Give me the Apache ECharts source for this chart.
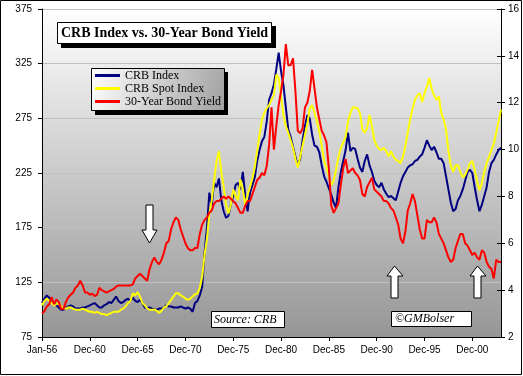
<!DOCTYPE html>
<html>
<head>
<meta charset="utf-8">
<script src="https://cdn.jsdelivr.net/npm/echarts@6/dist/echarts.min.js"></script>
<style>
  html, body { margin: 0; padding: 0; background: #fff; }
  #chart { width: 523px; height: 376px; }
</style>
</head>
<body>
<div id="chart"></div>
<script>
// quarterly points, Jan-56 .. Jan-04
let categories = [];
let monthNames = ['Jan', 'Apr', 'Jul', 'Oct'];
for (let y = 1956; y <= 2004; y++) {
  for (let q = 0; q < 4; q++) {
    if (y === 2004 && q > 0) break;
    categories.push(monthNames[q] + '-' + String(y).slice(2));
  }
}

let xTickLabels = ['Jan-56', 'Dec-60', 'Dec-65', 'Dec-70', 'Dec-75', 'Dec-80', 'Dec-85', 'Dec-90', 'Dec-95', 'Dec-00'];

let crbIndex = [
  106, 110, 113, 111,  109, 106, 104, 102,  100, 100, 102, 103,  104, 103, 101, 101,
  101, 102, 102, 103,  104, 105, 106, 104,  102, 102, 104, 105,  107, 106, 109, 112,
  108, 106, 107, 109,  110, 108, 111, 108,  107, 109, 106, 102,  101, 102, 101, 100,
  100, 101, 101, 102,  104, 103, 103, 102,  102, 102, 103, 102,  101, 102, 101, 98,
  106, 108, 113, 121,  152, 175, 207, 195,  216, 212, 220, 200,  190, 184, 186, 196,
  204, 214, 216, 210,  226, 205, 190, 207,  214, 221, 236, 246,  254, 258, 272, 292,
  298, 306, 320, 335,  318, 305, 285, 265,  258, 249, 240, 232,  238, 255, 268, 278,
  275, 260, 250, 249,  244, 232, 222, 217,  211, 205, 198, 193,  212, 226, 236, 246,
  262, 245, 248, 247,  238, 230, 226, 236,  242, 232, 226, 218,  214, 212, 216, 210,
  206, 203, 204, 202,  200, 208, 216, 222,  226, 230, 232, 233,  236, 237, 240, 242,
  248, 255, 250, 246,  249, 244, 238, 238,  234, 222, 210, 198,  190, 192, 200, 204,
  210, 218, 226, 228,  225, 212, 200, 190,  196, 204, 212, 226,  234, 237, 242, 246,
  248
];

let crbSpot = [
  104, 108, 110, 108,  106, 104, 105, 106,  103, 101, 101, 102,  102, 101, 100, 100,
  100, 101, 100, 99,   98, 98, 97, 98,      97, 96, 96, 95,      96, 97, 98, 98,
  98, 100, 101, 103,   106, 108, 115, 113,  116, 112, 106, 104,  101, 100, 100, 100,
  99, 97, 99, 102,     103, 106, 109, 112,  115, 115, 113, 112,  110, 109, 110, 112,
  114, 115, 120, 130,  150, 165, 188, 200,  218, 236, 245, 226,  212, 196, 188, 196,
  210, 204, 200, 219,  210, 196, 205, 212,  220, 230, 245, 260,  274, 280, 284, 287,
  292, 296, 315, 312,  295, 278, 268, 262,  255, 248, 238, 230,  240, 250, 260, 270,
  284, 287, 280, 272,  263, 250, 236, 230,  222, 214, 218, 228,  240, 248, 253, 258,
  272, 280, 285, 285,  284, 280, 265, 262,  266, 278, 268, 255,  250, 247, 246, 248,
  245, 240, 245, 240,  237, 236, 234, 240,  250, 262, 274, 284,  292, 296, 298, 290,
  298, 304, 312, 302,  296, 292, 295, 280,  274, 265, 245, 232,  226, 232, 232, 226,
  221, 223, 228, 234,  236, 228, 218, 209,  216, 226, 234, 240,  246, 252, 262, 272,
  283
];

let bondYield = [
  3.0, 3.1, 3.3, 3.4,   3.7, 3.4, 3.6, 3.5,   3.2, 3.2, 3.5, 3.7,   3.8, 3.9, 4.1, 4.2,
  4.4, 4.2, 3.9, 3.9,   3.8, 3.85, 3.75, 3.8, 4.1, 4.0, 3.95, 3.9, 3.95, 4.0, 4.05, 4.15,
  4.2, 4.2, 4.2, 4.2,   4.2, 4.2, 4.25, 4.5,  4.6, 4.7, 4.6, 4.5,   4.4, 4.9, 5.2, 5.4,
  5.2, 5.1, 5.3, 5.6,   6.0, 6.1, 6.6, 6.9,   7.1, 7.0, 6.6, 6.3,   6.0, 5.8, 5.7, 5.7,
  5.8, 5.8, 6.4, 6.8,   7.0, 7.1, 7.3, 7.4,   7.7, 7.8, 7.8, 7.9,   8.0, 7.9, 8.0, 7.9,
  7.8, 7.7, 7.5, 7.3,   7.3, 7.6, 7.8, 7.8,   8.1, 8.4, 8.7, 8.8,   9.0, 8.9, 9.3, 10.2,
  11.8, 10.0, 11.0, 11.9, 12.5, 13.2, 14.5, 13.6, 13.6, 13.9, 12.5, 10.8, 10.7, 10.9, 11.8, 12.0,
  12.5, 13.4, 12.6, 11.8, 11.3, 10.8, 10.6, 10.3, 9.2, 7.6, 7.3, 7.5,  7.7, 8.5, 9.2, 9.6,
  9.0, 9.1, 9.2, 9.0,   8.9, 8.7, 8.1, 8.0,   8.4, 8.6, 8.8, 8.3,   8.2, 8.1, 8.0, 7.8,
  7.8, 7.7, 7.5, 7.4,   7.1, 6.8, 6.2, 6.0,   6.5, 7.4, 7.7, 8.1,   7.8, 7.2, 6.6, 6.2,
  6.2, 7.0, 6.9, 6.9,   7.1, 6.9, 6.4, 6.2,   6.0, 5.7, 5.4, 5.2,   5.3, 5.8, 6.1, 6.4,
  6.4, 6.0, 5.9, 5.7,   5.5, 5.6, 5.4, 5.3,   5.7, 5.6, 5.2, 5.0,   4.9, 4.5, 5.3, 5.2,
  5.2
];

let axisFont = { color: '#000', fontFamily: 'Liberation Sans', fontSize: 10 };

let chart = echarts.init(document.getElementById('chart'));
let option = {
  animation: false,
  backgroundColor: '#fff',
  grid: {
    left: 42,
    right: 22,
    top: 9,
    bottom: 39,
    show: true,
    borderWidth: 0,
    backgroundColor: {
      type: 'linear', x: 0, y: 0, x2: 0, y2: 1,
      colorStops: [
        { offset: 0, color: '#ffffff' },
        { offset: 1, color: '#969696' }
      ]
    }
  },
  legend: {
    orient: 'vertical',
    left: 95,
    top: 68,
    padding: [1, 0, 0, 0],
    itemWidth: 25,
    itemHeight: 3,
    itemGap: 0,
    icon: 'rect',
    selectedMode: false,
    textStyle: { color: '#000', fontFamily: 'Liberation Serif', fontSize: 12, lineHeight: 13 },
    data: ['CRB Index', 'CRB Spot Index', '30-Year Bond Yield']
  },
  xAxis: {
    type: 'category',
    data: categories,
    boundaryGap: false,
    axisLine: { lineStyle: { color: '#000', width: 1 } },
    axisTick: { interval: 19, length: 4, lineStyle: { color: '#000' } },
    axisLabel: Object.assign({
      interval: 19,
      margin: 8,
      formatter: (value, index) => xTickLabels[index / 20] || ''
    }, axisFont),
    splitLine: { show: false }
  },
  yAxis: [
    {
      type: 'value',
      position: 'left',
      min: 75,
      max: 375,
      interval: 50,
      axisLine: { show: true, lineStyle: { color: '#000' } },
      axisTick: { show: true, length: 4, lineStyle: { color: '#000' } },
      axisLabel: Object.assign({ margin: 10 }, axisFont),
      splitLine: { show: true, lineStyle: { color: '#c0c0c0', width: 1 } }
    },
    {
      type: 'value',
      position: 'right',
      min: 2,
      max: 16,
      interval: 2,
      axisLine: { show: true, lineStyle: { color: '#000' } },
      axisTick: { show: true, length: 4, lineStyle: { color: '#000' } },
      axisLabel: Object.assign({ margin: 7 }, axisFont),
      splitLine: { show: false }
    },
    {
      // inner half of the cross ticks on the right axis
      type: 'value',
      position: 'right',
      min: 2,
      max: 16,
      interval: 2,
      axisLine: { show: false },
      axisTick: { show: true, inside: true, length: 4, lineStyle: { color: '#000' } },
      axisLabel: { show: false },
      splitLine: { show: false }
    }
  ],
  series: [
    {
      name: 'CRB Index',
      type: 'line',
      yAxisIndex: 0,
      data: crbIndex,
      showSymbol: false,
      itemStyle: { color: '#000080' },
      lineStyle: { color: '#000080', width: 2 }
    },
    {
      name: 'CRB Spot Index',
      type: 'line',
      yAxisIndex: 0,
      data: crbSpot,
      showSymbol: false,
      itemStyle: { color: '#ffff00' },
      lineStyle: { color: '#ffff00', width: 2 }
    },
    {
      name: '30-Year Bond Yield',
      type: 'line',
      yAxisIndex: 1,
      data: bondYield,
      showSymbol: false,
      itemStyle: { color: '#ff0000' },
      lineStyle: { color: '#ff0000', width: 2 }
    }
  ],
  graphic: [
    // outer border
    { type: 'rect', z: 20, shape: { x: 0.5, y: 0.5, width: 521, height: 374 }, style: { fill: 'none', stroke: '#000', lineWidth: 1 } },
    // title box
    { type: 'rect', z: 10, shape: { x: 61, y: 26, width: 215, height: 22 }, style: { fill: '#000' } },
    { type: 'rect', z: 11, shape: { x: 57.5, y: 22.5, width: 214, height: 21 }, style: { fill: '#fff', stroke: '#000', lineWidth: 1 } },
    { type: 'text', z: 12, x: 164.5, y: 33.5, style: { text: 'CRB Index vs. 30-Year Bond Yield', fill: '#000', font: 'bold 14px "Liberation Serif"', align: 'center', verticalAlign: 'middle' } },
    // legend box
    { type: 'rect', z: 3, shape: { x: 95, y: 72, width: 133, height: 43 }, style: { fill: '#000' } },
    {
      type: 'rect', z: 3, shape: { x: 91.5, y: 68.5, width: 133, height: 42 },
      style: {
        fill: { type: 'linear', x: 0, y: 0, x2: 1, y2: 1, colorStops: [{ offset: 0, color: '#ffffff' }, { offset: 1, color: '#a0a0a0' }] },
        stroke: '#000', lineWidth: 1
      }
    },
    // source boxes
    { type: 'rect', z: 10, shape: { x: 211.5, y: 311.5, width: 73, height: 16 }, style: { fill: '#fff', stroke: '#000', lineWidth: 1 } },
    { type: 'text', z: 11, x: 214, y: 319.5, style: { text: 'Source: CRB', fill: '#000', font: 'italic 12px "Liberation Serif"', verticalAlign: 'middle' } },
    { type: 'rect', z: 10, shape: { x: 391.5, y: 311.5, width: 80, height: 15 }, style: { fill: '#fff', stroke: '#000', lineWidth: 1 } },
    { type: 'text', z: 11, x: 395, y: 319, style: { text: '©GMBolser', fill: '#000', font: 'italic 12px "Liberation Serif"', verticalAlign: 'middle' } },
    // arrows
    {
      type: 'polygon', z: 10,
      shape: { points: [[146, 205], [153, 205], [153, 230], [157, 230], [149.5, 243], [142, 230], [146, 230]] },
      style: { fill: '#fff', stroke: '#000', lineWidth: 1 }
    },
    {
      type: 'polygon', z: 10,
      shape: { points: [[391, 298], [398, 298], [398, 276], [403, 276], [394.5, 266], [387, 276], [391, 276]] },
      style: { fill: '#fff', stroke: '#000', lineWidth: 1 }
    },
    {
      type: 'polygon', z: 10,
      shape: { points: [[474, 298], [481, 298], [481, 276], [486, 276], [477.5, 266], [470, 276], [474, 276]] },
      style: { fill: '#fff', stroke: '#000', lineWidth: 1 }
    }
  ]
};
chart.setOption(option);
</script>
</body>
</html>
